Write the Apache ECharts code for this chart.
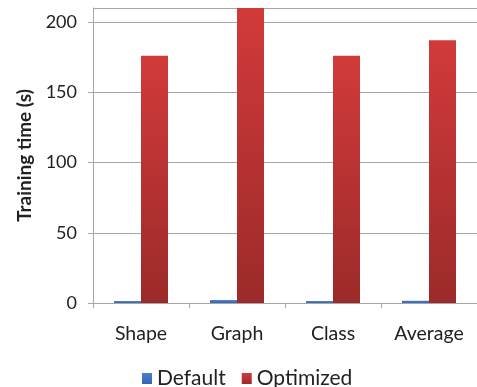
<!DOCTYPE html>
<html>
<head>
<meta charset="utf-8">
<script src="https://cdn.jsdelivr.net/npm/echarts@6/dist/echarts.min.js"></script>
<style>
  html, body { margin: 0; padding: 0; background: #fff; }
  #chart { width: 477px; height: 387px; }
</style>
</head>
<body>
<div id="chart"></div>
<script>
// Training time per dataset, default vs. optimized settings
const categories = ['Shape', 'Graph', 'Class', 'Average'];
const defaultTimes = [1.4, 2.1, 1.4, 1.6];
const optimizedTimes = [176, 210, 176, 187];
const seriesNames = ['Default', 'Optimized'];

const font = 'Lato, "Open Sans", sans-serif';
const axisGray = '#a6a6a6';

const chart = echarts.init(document.getElementById('chart'));

chart.setOption({
  animation: false,
  textStyle: { fontFamily: font },
  grid: { left: 93, right: -5, top: 8, bottom: 84 },
  legend: {
    data: seriesNames,
    left: 137,
    top: 363,
    itemWidth: 10,
    itemHeight: 11,
    itemGap: 16,
    icon: 'rect',
    textStyle: { fontSize: 21, color: '#222', fontFamily: font }
  },
  xAxis: {
    type: 'category',
    data: categories,
    axisLine: { lineStyle: { color: axisGray } },
    axisTick: { show: true, length: 5, lineStyle: { color: axisGray } },
    axisLabel: { fontSize: 19.5, color: '#222', margin: 21 }
  },
  yAxis: {
    type: 'value',
    min: 0,
    max: 210,
    interval: 50,
    name: 'Training time (s)',
    nameLocation: 'middle',
    nameGap: 59,
    nameTextStyle: { fontSize: 19, fontWeight: 'bold', color: '#222' },
    axisLine: { show: true, lineStyle: { color: axisGray } },
    axisTick: { show: true, length: 5, lineStyle: { color: axisGray } },
    axisLabel: { fontSize: 18, color: '#222', margin: 16, showMaxLabel: false },
    splitLine: { lineStyle: { color: axisGray } }
  },
  series: [
    {
      name: seriesNames[0],
      type: 'bar',
      data: defaultTimes,
      barWidth: 27,
      barGap: '0%',
      itemStyle: {
        color: new echarts.graphic.LinearGradient(0, 0, 0, 1, [
          { offset: 0, color: '#4a7fcf' },
          { offset: 1, color: '#3565b0' }
        ])
      }
    },
    {
      name: seriesNames[1],
      type: 'bar',
      data: optimizedTimes,
      barWidth: 27,
      barGap: '0%',
      itemStyle: {
        color: new echarts.graphic.LinearGradient(0, 0, 0, 1, [
          { offset: 0, color: '#d23a3a' },
          { offset: 1, color: '#9c2a2a' }
        ])
      }
    }
  ]
});
</script>
</body>
</html>
